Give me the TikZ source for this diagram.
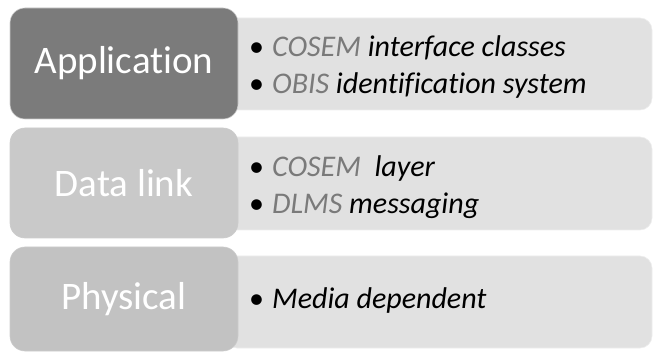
\documentclass[tikz,border=0pt]{standalone}
\usepackage{fontspec}
\setmainfont{Carlito}[Ligatures=NoCommon]
\definecolor{appgray}{HTML}{7B7B7B}
\definecolor{linkgray}{HTML}{C9C9C9}
\definecolor{physgray}{HTML}{C2C2C2}
\definecolor{infogray}{HTML}{E1E1E1}
\definecolor{acrgray}{HTML}{7A7A7A}
\newcommand{\acr}[1]{{\color{acrgray}#1}}
\newcommand{\bul}{{\upshape\textbullet}\hspace{8pt}}
\begin{document}
\begin{tikzpicture}[x=1pt, y=-1pt,
    layer/.style={rounded corners=15pt, draw=white!80!black, line width=0.6pt,
      text=white, font=\fontsize{39}{42}\selectfont, minimum width=228pt,
      inner sep=0pt},
    info/.style={rounded corners=12pt, fill=infogray, draw=white!93!black,
      line width=0.6pt, minimum width=427pt, inner sep=0pt},
    items/.style={anchor=west, align=left, inner sep=0pt,
      font=\itshape\fontsize{30}{37}\selectfont}]
  \useasboundingbox (0,0) rectangle (655,352);
  % right boxes first, behind the layers
  \begin{scope}[every node/.style={info}]
    \node [minimum height=92pt] (appinfo) at (438.5,64) {};
    \node [minimum height=93pt] (linkinfo) at (438.5,183.5) {};
    \node [minimum height=92pt] (physinfo) at (438.5,302) {};
  \end{scope}
  \begin{scope}[every node/.style={layer}]
    \node [fill=appgray, minimum height=111pt] (app) at (124,63.5)
      {Application};
    \node [fill=linkgray, minimum height=110pt] (link) at (124,183)
      {Data link};
    \node [fill=physgray, minimum height=104pt] (phys) at (124,299)
      {Physical};
  \end{scope}
  \begin{scope}[every node/.style={items}]
    \node (appitems) at (249,67) {\bul\acr{COSEM} interface classes\\
      \bul\acr{OBIS} identification system};
    \node (linkitems) at (249,187) {\bul\acr{COSEM}\ \ layer\\
      \bul\acr{DLMS} messaging};
    \node (physitems) at (249,301) {\bul Media dependent};
  \end{scope}
\end{tikzpicture}
\end{document}
